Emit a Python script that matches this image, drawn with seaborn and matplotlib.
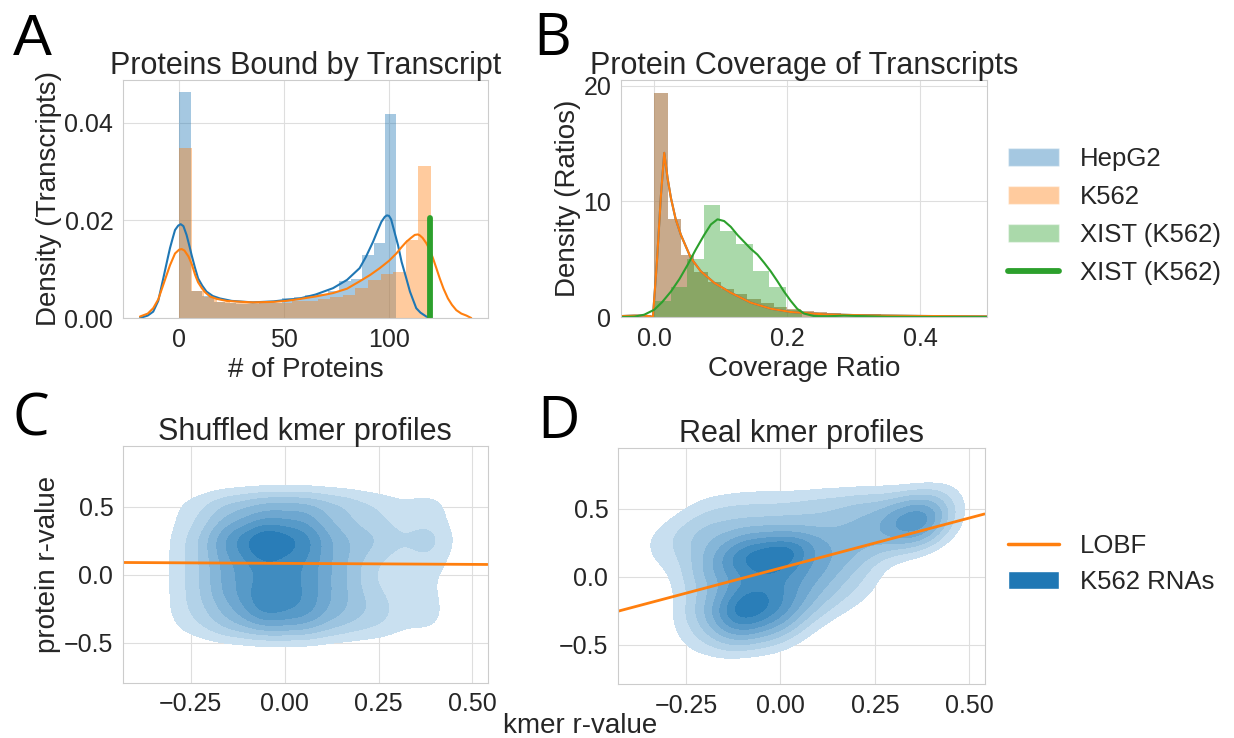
import numpy as np
import pandas as pd
import matplotlib
matplotlib.use("Agg")
import matplotlib.pyplot as plt
from matplotlib.patches import Patch
from matplotlib.lines import Line2D
from matplotlib.colors import ListedColormap
import seaborn as sns

# ---------------- Panel A: proteins bound per transcript ----------------
hepg2_bin_width = 5.45
hepg2_protein_density = [0.0462, 0.0056, 0.0046, 0.0033, 0.0030, 0.0029, 0.0029,
                         0.0030, 0.0031, 0.0040, 0.0043, 0.0048, 0.0050, 0.0055,
                         0.0076, 0.0080, 0.0129, 0.0154, 0.0418]
k562_bin_width = 6.0
k562_protein_density = [0.0347, 0.0055, 0.0043, 0.0033, 0.0031, 0.0030, 0.0030,
                        0.0030, 0.0031, 0.0034, 0.0035, 0.0038, 0.0042, 0.0048,
                        0.0062, 0.0078, 0.0090, 0.0095, 0.0160, 0.0312]

hepg2_kde_x = [-18.7, -15, -12.4, -10, -7.6, -5.5, -4.4, -3, -2, -0.5, 0.7, 2, 3.5,
               5, 5.9, 7.5, 9, 11, 13, 16, 19.4, 25, 35, 45, 51, 57.5, 65, 73.3, 80,
               86, 89, 92.4, 94.5, 96.4, 98, 99, 100, 101, 102.5, 104.3, 106, 108,
               110, 111.4, 113, 115, 117.8, 119.5]
hepg2_kde_y = [0.0, 0.0005, 0.0013, 0.0035, 0.0081, 0.0122, 0.0143, 0.0165, 0.0180,
               0.0189, 0.0192, 0.0188, 0.0170, 0.0145, 0.0129, 0.0103, 0.0081, 0.0066,
               0.0054, 0.0045, 0.0040, 0.0035, 0.0032, 0.0034, 0.0037, 0.0040, 0.0048,
               0.0061, 0.0078, 0.0102, 0.0125, 0.0156, 0.0178, 0.0197, 0.0207, 0.0210,
               0.0209, 0.0202, 0.0178, 0.0149, 0.0115, 0.0085, 0.0054, 0.0038, 0.0020,
               0.0011, 0.0003, 0.0]

k562_kde_x = [-18.7, -15, -12.4, -10, -7.6, -4.4, -2, 0, 1.2, 2.5, 4.4, 6, 7.6, 9,
              10.8, 12.5, 14.7, 18, 22.6, 30, 35.2, 45, 51, 57.5, 65, 73.3, 80, 86,
              91, 95.6, 100, 103.5, 106, 108.3, 110.5, 112.3, 113.8, 114.7, 116,
              117.8, 119.5, 121, 122.5, 124.2, 126, 128.1, 130, 132.1, 134.5, 136.9,
              139.2]
k562_kde_y = [0.0003, 0.0009, 0.0020, 0.0038, 0.0068, 0.0108, 0.0132, 0.0140, 0.0141,
              0.0138, 0.0126, 0.0110, 0.0088, 0.0073, 0.0061, 0.0052, 0.0044, 0.0039,
              0.0035, 0.0033, 0.0032, 0.0033, 0.0035, 0.0039, 0.0044, 0.0051, 0.0060,
              0.0075, 0.0088, 0.0102, 0.0117, 0.0132, 0.0145, 0.0156, 0.0164, 0.0170,
              0.0171, 0.0169, 0.0164, 0.0153, 0.0139, 0.0122, 0.0103, 0.0081, 0.0060,
              0.0040, 0.0027, 0.0016, 0.0009, 0.0005, 0.0]

xist_protein_count = 119.6
xist_marker_height = 0.0204

# ---------------- Panel B: protein coverage of transcripts ----------------
coverage_bin_width = 0.02
coverage_density = [19.4, 8.5, 5.4, 3.9, 3.0, 2.4, 2.0, 1.6, 1.2, 0.9, 0.7, 0.55,
                    0.4, 0.35, 0.3, 0.25, 0.22, 0.2, 0.18, 0.16, 0.14, 0.12, 0.1,
                    0.1, 0.08]
xist_bin_width = 0.0247
xist_coverage_density = [1.35, 2.6, 5.0, 9.7, 7.4, 6.3, 4.0, 2.6, 0.6]

coverage_kde_x = [-0.05, -0.03, -0.015, -0.006, -0.002, 0.004, 0.010, 0.015, 0.020,
                  0.025, 0.032, 0.040, 0.055, 0.070, 0.090, 0.115, 0.145, 0.175,
                  0.205, 0.255, 0.32, 0.40, 0.50]
coverage_kde_y = [0.08, 0.12, 0.12, 0.06, 0.0, 4.8, 10.5, 14.2, 12.0, 10.3, 8.5, 7.1,
                  5.1, 3.95, 2.96, 2.1, 1.24, 0.72, 0.43, 0.23, 0.14, 0.09, 0.05]
xist_kde_x = [-0.05, -0.03, -0.015, 0.0, 0.012, 0.025, 0.038, 0.05, 0.062, 0.075,
              0.085, 0.095, 0.105, 0.115, 0.125, 0.135, 0.145, 0.155, 0.165, 0.175,
              0.185, 0.195, 0.205, 0.215, 0.225, 0.24, 0.26, 0.285, 0.31, 0.35,
              0.42, 0.5]
xist_kde_y = [0.0, 0.03, 0.2, 0.63, 1.3, 2.2, 3.3, 4.5, 5.8, 7.1, 8.0, 8.45, 8.3,
              7.8, 7.1, 6.5, 5.9, 5.4, 4.7, 3.95, 3.1, 2.2, 1.4, 0.7, 0.3, 0.08,
              0.06, 0.12, 0.08, 0.02, 0.0, 0.0]

# ---------------- Panels C/D: kmer vs protein correlation densities ----------------
# relative density on a coarse grid (columns: kmer r, rows: protein r)
shuffled_kmer_r = [-0.25, -0.15, -0.05, 0.05, 0.15, 0.25, 0.38]
shuffled_protein_r = [0.52, 0.39, 0.26, 0.13, 0.0, -0.13, -0.26, -0.39]
shuffled_density = [[1.0, 2.5, 3.5, 3.5, 2.5, 1.5, 1.5],
                    [1.0, 3.0, 4.0, 4.0, 2.0, 1.5, 1.2],
                    [1.5, 5.0, 8.0, 6.0, 3.0, 2.5, 2.5],
                    [1.5, 4.0, 6.0, 5.0, 3.0, 1.5, 1.5],
                    [1.5, 4.0, 5.0, 5.0, 3.0, 1.0, 1.0],
                    [1.5, 4.0, 6.0, 5.0, 3.0, 1.5, 1.0],
                    [1.5, 3.0, 6.0, 5.0, 3.0, 2.0, 1.2],
                    [1.0, 2.5, 3.5, 3.5, 2.0, 1.5, 1.0]]

real_kmer_r = [-0.3, -0.2, -0.1, 0.0, 0.1, 0.2, 0.3, 0.38]
real_protein_r = [0.55, 0.42, 0.29, 0.16, 0.03, -0.1, -0.23, -0.36, -0.49]
real_density = [[0.0, 1.0, 1.5, 1.5, 2.0, 2.5, 2.5, 3.5],
                [0.5, 2.0, 2.0, 2.0, 2.0, 3.0, 4.0, 6.5],
                [1.5, 3.0, 4.0, 4.0, 3.0, 3.0, 3.0, 4.0],
                [1.0, 3.0, 7.0, 9.0, 4.0, 3.0, 0.5, 0.3],
                [0.3, 3.0, 5.0, 5.5, 4.0, 2.0, 0.0, 0.0],
                [0.0, 2.5, 5.5, 5.0, 3.0, 1.5, 0.0, 0.0],
                [0.0, 3.0, 8.5, 5.5, 2.0, 0.5, 0.0, 0.0],
                [0.0, 2.0, 6.0, 4.0, 0.5, 0.0, 0.0, 0.0],
                [0.0, 1.0, 2.5, 1.5, 0.0, 0.0, 0.0, 0.0]]

shuffled_fit = (-0.015, 0.084)   # slope, intercept
real_fit = (0.737, 0.062)

# ---------------- style ----------------
sns.set_style("whitegrid", {"axes.edgecolor": ".8", "grid.color": ".87",
                            "axes.linewidth": 1.3, "grid.linewidth": 1.3,
                            "text.color": ".15", "xtick.color": ".15",
                            "ytick.color": ".15", "axes.labelcolor": ".15"})
plt.rcParams["font.family"] = ["Liberation Sans", "DejaVu Sans"]
TICK, LABEL, TITLE, LEG = 18, 20, 22, 18.5

pal = sns.color_palette()
blue, orange, green = pal[0], pal[1], pal[2]

fig = plt.figure(figsize=(12.34, 7.38), dpi=100)
W, H = 1234.0, 738.0


def axes_px(left, top, right, bottom):
    return fig.add_axes([left / W, 1 - bottom / H, (right - left) / W, (bottom - top) / H])


ax_a = axes_px(123, 80, 488, 318)
ax_b = axes_px(621, 80, 987, 317)
ax_c = axes_px(123, 446, 487.5, 682.5)
ax_d = axes_px(618, 448, 984.5, 684)


def hist_from_heights(ax, heights, width, color):
    heights = np.asarray(heights)
    edges = np.arange(len(heights) + 1) * width
    centers = (edges[:-1] + edges[1:]) / 2
    sns.histplot(x=centers, weights=heights, bins=edges.tolist(), stat="count",
                 color=color, alpha=0.4, linewidth=0, ax=ax)


# Panel A
hist_from_heights(ax_a, hepg2_protein_density, hepg2_bin_width, blue)
sns.lineplot(x=hepg2_kde_x, y=hepg2_kde_y, color=blue, lw=1.5, ax=ax_a)
hist_from_heights(ax_a, k562_protein_density, k562_bin_width, orange)
sns.lineplot(x=k562_kde_x, y=k562_kde_y, color=orange, lw=1.5, ax=ax_a)
sns.lineplot(x=[xist_protein_count, xist_protein_count], y=[0, xist_marker_height],
             estimator=None, sort=False, color=green, lw=4.2,
             solid_capstyle="round", ax=ax_a)
ax_a.set(xlim=(-26.8, 147.2), ylim=(0, 0.0487), xticks=[0, 50, 100],
         yticks=[0, 0.02, 0.04])
ax_a.set_xlabel("# of Proteins", fontsize=LABEL)
ax_a.set_ylabel("Density (Transcripts)", fontsize=LABEL, labelpad=2)
ax_a.set_title("Proteins Bound by Transcript", fontsize=TITLE, pad=4.5)

# Panel B (HepG2 and K562 coverage distributions coincide)
hist_from_heights(ax_b, coverage_density, coverage_bin_width, blue)
sns.lineplot(x=coverage_kde_x, y=coverage_kde_y, color=blue, lw=1.5, ax=ax_b)
hist_from_heights(ax_b, coverage_density, coverage_bin_width, orange)
sns.lineplot(x=coverage_kde_x, y=coverage_kde_y, color=orange, lw=1.5, ax=ax_b)
hist_from_heights(ax_b, xist_coverage_density, xist_bin_width, green)
sns.lineplot(x=xist_kde_x, y=xist_kde_y, color=green, lw=1.5, ax=ax_b)
ax_b.set(xlim=(-0.05, 0.5), ylim=(0, 20.5), xticks=[0, 0.2, 0.4], yticks=[0, 10, 20])
ax_b.set_xlabel("Coverage Ratio", fontsize=LABEL)
ax_b.set_ylabel("Density (Ratios)", fontsize=LABEL, labelpad=2)
ax_b.set_title("Protein Coverage of Transcripts", fontsize=TITLE, pad=4.5)

# Panels C and D: filled bivariate densities with fitted lines
N_BANDS = 9
BW = 0.33
pale_blue = sns.set_hls_values(blue, l=0.95)
full_cmap = sns.blend_palette([pale_blue, blue], as_cmap=True)
# the lowest band stays empty, so the visible bands start one step up the ramp
band_cmap = ListedColormap(full_cmap(np.linspace(1 / N_BANDS, 1.0, 256)))


def linear_band_isoprops(frame, bw_method, n_bands, gridsize=200, cut=3):
    """Mass fractions lying below evenly spaced density levels of the weighted KDE."""
    pts = frame[["kmer", "protein"]].to_numpy().T
    w = frame["w"].to_numpy()
    cov = np.cov(pts, aweights=w) * bw_method ** 2
    inv = np.linalg.inv(cov)
    bw = np.sqrt(np.diag(cov))
    gx = np.linspace(pts[0].min() - cut * bw[0], pts[0].max() + cut * bw[0], gridsize)
    gy = np.linspace(pts[1].min() - cut * bw[1], pts[1].max() + cut * bw[1], gridsize)
    X, Y = np.meshgrid(gx, gy)
    dx = X[..., None] - pts[0]
    dy = Y[..., None] - pts[1]
    q = inv[0, 0] * dx * dx + 2 * inv[0, 1] * dx * dy + inv[1, 1] * dy * dy
    dens = (np.exp(-0.5 * q) * w).sum(axis=-1)
    flat = np.sort(dens.ravel())
    below = np.cumsum(flat) / flat.sum()
    cuts = dens.max() * np.arange(1, n_bands) / n_bands
    props = [float(below[max(np.searchsorted(flat, c) - 1, 0)]) for c in cuts]
    return props + [1.0]


def density_panel(ax, kx, py, density, fit, title):
    gx, gy = np.meshgrid(kx, py)
    frame = pd.DataFrame({"kmer": gx.ravel(), "protein": gy.ravel(),
                          "w": np.asarray(density, dtype=float).ravel()})
    frame = frame[frame["w"] > 0].reset_index(drop=True)
    levels = linear_band_isoprops(frame, BW, N_BANDS)
    sns.kdeplot(data=frame, x="kmer", y="protein", weights="w", fill=True,
                levels=levels, cmap=band_cmap, bw_method=BW, ax=ax)
    xlim = (-0.43, 0.54)
    line_x = np.array(xlim)
    sns.lineplot(x=line_x, y=fit[1] + fit[0] * line_x, color=orange, lw=2, ax=ax)
    ax.set(xlim=xlim, ylim=(-0.79, 0.945), xticks=[-0.25, 0, 0.25, 0.5],
           yticks=[-0.5, 0, 0.5], xlabel="", ylabel="")
    ax.set_title(title, fontsize=TITLE, pad=4.5)


density_panel(ax_c, shuffled_kmer_r, shuffled_protein_r, shuffled_density,
              shuffled_fit, "Shuffled kmer profiles")
density_panel(ax_d, real_kmer_r, real_protein_r, real_density, real_fit,
              "Real kmer profiles")
ax_c.set_ylabel("protein r-value", fontsize=LABEL, labelpad=2)

for ax in (ax_a, ax_b, ax_c, ax_d):
    ax.tick_params(labelsize=TICK)
    ax.set_axisbelow(True)

fig.text(580 / W, 5 / H, "kmer r-value", fontsize=LABEL, ha="center", va="baseline")

# Legends
top_handles = [Patch(facecolor=blue, alpha=0.4), Patch(facecolor=orange, alpha=0.4),
               Patch(facecolor=green, alpha=0.4),
               Line2D([], [], color=green, lw=4.2, solid_capstyle="round")]
fig.legend(top_handles, ["HepG2", "K562", "XIST (K562)", "XIST (K562)"],
           loc="center left", bbox_to_anchor=(1008 / W, 1 - 216 / H), frameon=False,
           fontsize=LEG, borderpad=0, borderaxespad=0, labelspacing=0.55,
           handlelength=2.0, handleheight=0.7)
bottom_handles = [Line2D([], [], color=orange, lw=2.5), Patch(facecolor=blue)]
fig.legend(bottom_handles, ["LOBF", "K562 RNAs"], loc="center left",
           bbox_to_anchor=(1008 / W, 1 - 564 / H), frameon=False, fontsize=LEG,
           borderpad=0, borderaxespad=0, labelspacing=0.5, handlelength=2.0,
           handleheight=0.7)

# Panel letters
fig.text(13 / W, 1 - 55 / H, "A", fontsize=42, va="baseline", color="black")
for letter, x, y in (("B", 533, 55), ("C", 12, 436), ("D", 537, 438)):
    fig.text(x / W, 1 - y / H, letter, fontsize=42, va="baseline", color="black",
             family=["Open Sans", "DejaVu Sans"])

fig.savefig("out.png", dpi=100)
